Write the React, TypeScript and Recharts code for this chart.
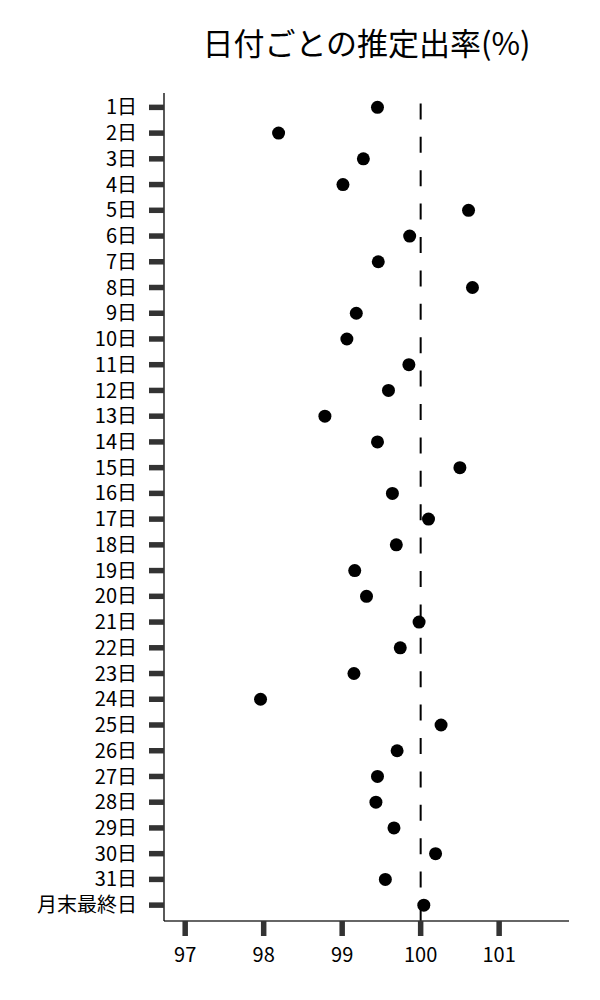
import { ReferenceLine, Scatter, ScatterChart, XAxis, YAxis } from 'recharts'

const days = [
  '1日', '2日', '3日', '4日', '5日', '6日', '7日', '8日', '9日', '10日',
  '11日', '12日', '13日', '14日', '15日', '16日', '17日', '18日', '19日', '20日',
  '21日', '22日', '23日', '24日', '25日', '26日', '27日', '28日', '29日', '30日',
  '31日', '月末最終日',
]

const rates = [
  99.45, 98.19, 99.27, 99.01, 100.61, 99.86, 99.46, 100.66, 99.18, 99.06,
  99.85, 99.59, 98.78, 99.45, 100.5, 99.64, 100.1, 99.69, 99.16, 99.31,
  99.98, 99.74, 99.15, 97.96, 100.26, 99.7, 99.45, 99.43, 99.66, 100.19,
  99.55, 100.04,
]

const xTicks = [97, 98, 99, 100, 101]

const data = days.map((day, i) => ({ day, rate: rates[i] }))

const font = '"Noto Sans CJK JP", "Noto Sans", sans-serif'

const Dot = (props: any) => <circle cx={props.cx} cy={props.cy} r={6.5} fill='#000' />

const App = () => {
  return (
    <div style={{ position: 'relative', width: 584, height: 984, fontFamily: font }}>
      <div
        style={{
          position: 'absolute',
          left: 156,
          width: 405,
          top: 18,
          textAlign: 'center',
          fontSize: 31,
          lineHeight: '31px',
          color: '#000',
        }}>
        日付ごとの推定出率(%)
      </div>
      <ScatterChart
        width={584}
        height={984}
        margin={{ top: 85, right: 23, left: 6, bottom: 21 }}>
        <XAxis
          type='number'
          dataKey='rate'
          domain={[96.73, 101.89]}
          ticks={xTicks}
          allowDataOverflow
          height={50}
          tickSize={15}
          tickMargin={12}
          axisLine={{ stroke: '#333', strokeWidth: 1.5 }}
          tickLine={{ stroke: '#333', strokeWidth: 5.5 }}
          tick={{ fill: '#000', fontSize: 20, fontFamily: font }}
        />
        <YAxis
          type='category'
          dataKey='day'
          reversed
          width={150}
          interval={0}
          padding={{ top: 1.5, bottom: 3 }}
          tickSize={15}
          tickMargin={12}
          axisLine={{ stroke: '#000', strokeWidth: 1.3 }}
          tickLine={{ stroke: '#333', strokeWidth: 5.5 }}
          tick={{ fill: '#000', fontSize: 20, fontFamily: font }}
        />
        <ReferenceLine
          x={100}
          stroke='#000'
          strokeWidth={2}
          strokeDasharray='16 17.4'
        />
        <Scatter
          data={data}
          fill='#000'
          shape={Dot}
          isAnimationActive={false}
        />
      </ScatterChart>
    </div>
  )
}

export default App
